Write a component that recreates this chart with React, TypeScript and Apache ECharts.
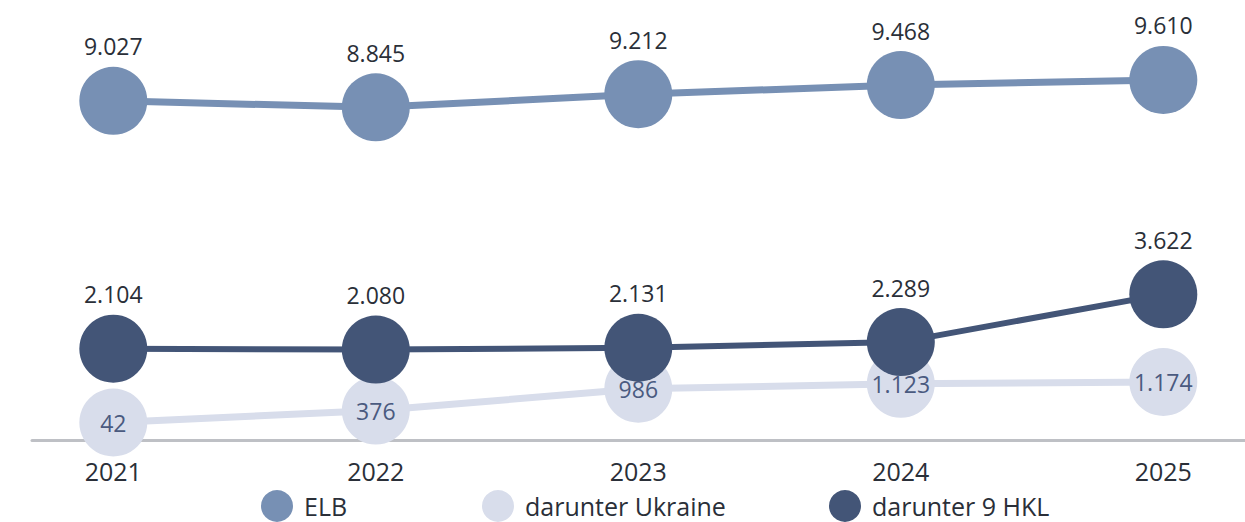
import React, { useEffect, useRef } from "react";
import * as echarts from "echarts";

const years = ["2021", "2022", "2023", "2024", "2025"];
const elb = [9027, 8845, 9212, 9468, 9610];
const ukraine = [42, 376, 986, 1123, 1174];
const hkl = [2104, 2080, 2131, 2289, 3622];

const seriesNames = ["ELB", "darunter Ukraine", "darunter 9 HKL"];
const colors = ["#7790B4", "#D8DDEB", "#435577"];

const FONT = "'Open Sans', 'Noto Sans', sans-serif";
const fmt = (v: number) => v.toLocaleString("de-DE");

export default function App() {
  const ref = useRef<HTMLDivElement>(null);
  useEffect(() => {
    if (!ref.current) return;
    const chart = echarts.init(ref.current, null, { renderer: "svg" });
    const topLabel = {
      show: true,
      position: "top" as const,
      distance: 9,
      fontFamily: FONT,
      fontSize: 23,
      lineHeight: 23,
      color: "#2A2F38",
      formatter: (p: any) => fmt(p.value),
    };
    const legendBase = {
      orient: "horizontal" as const,
      top: 490,
      padding: 0,
      itemWidth: 32,
      itemHeight: 32,
      icon: "circle",
      selectedMode: false,
      textStyle: {
        fontFamily: FONT,
        fontSize: 25,
        lineHeight: 25,
        color: "#2A2F38",
        padding: [0, 0, 0, 6],
      },
    };
    chart.setOption({
      animation: false,
      textStyle: { fontFamily: FONT },
      legend: [
        { ...legendBase, left: 261, data: [seriesNames[0]] },
        { ...legendBase, left: 482, data: [seriesNames[1]] },
        { ...legendBase, left: 829, data: [seriesNames[2]] },
      ],
      grid: [
        { left: 113.3, right: 81.7, top: 66, height: 374.5 },
        { left: 32, right: 0, top: 66, height: 374.5 },
      ],
      xAxis: [
        {
          type: "category",
          gridIndex: 0,
          data: years,
          boundaryGap: false,
          axisLine: { show: false, onZero: false },
          axisTick: { show: false },
          axisLabel: { margin: 18, fontFamily: FONT, fontSize: 25, lineHeight: 25, color: "#2A2F38" },
          splitLine: { show: false },
        },
        {
          type: "category",
          gridIndex: 1,
          data: years,
          boundaryGap: false,
          axisLine: { show: true, onZero: false, lineStyle: { color: "#BEC0C5", width: 3 } },
          axisTick: { show: false },
          axisLabel: { show: false },
          splitLine: { show: false },
        },
      ],
      yAxis: [
        { type: "value", gridIndex: 0, min: -460, max: 10000, show: false, splitLine: { show: false } },
        { type: "value", gridIndex: 1, min: -460, max: 10000, show: false, splitLine: { show: false } },
      ],
      series: [
        {
          name: seriesNames[0],
          type: "line",
          data: elb,
          symbol: "circle",
          symbolSize: 68,
          itemStyle: { color: colors[0] },
          lineStyle: { color: colors[0], width: 7 },
          label: topLabel,
          z: 2,
        },
        {
          name: seriesNames[1],
          type: "line",
          data: ukraine,
          symbol: "circle",
          symbolSize: 68,
          itemStyle: { color: colors[1] },
          lineStyle: { color: colors[1], width: 7 },
          label: {
            show: true,
            position: "inside",
            fontFamily: FONT,
            fontSize: 23,
            color: "#4A5A80",
            formatter: (p: any) => fmt(p.value),
          },
          z: 3,
        },
        {
          name: seriesNames[2],
          type: "line",
          data: hkl,
          symbol: "circle",
          symbolSize: 68,
          itemStyle: { color: colors[2] },
          lineStyle: { color: colors[2], width: 6 },
          label: topLabel,
          z: 4,
        },
      ],
    });
    return () => chart.dispose();
  }, []);
  return (
    <div
      ref={ref}
      style={{ position: "fixed", left: 0, top: 0, width: 1245, height: 522, background: "#fff" }}
    />
  );
}
